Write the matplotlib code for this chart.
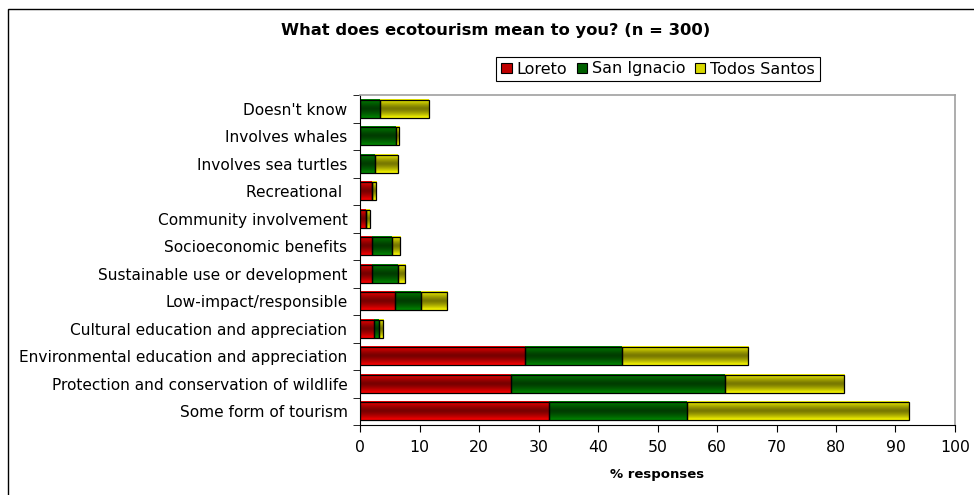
import matplotlib
matplotlib.use('Agg')
import matplotlib.pyplot as plt
import numpy as np
from matplotlib.patches import Rectangle, Patch
from matplotlib.colors import LinearSegmentedColormap

# categories listed bottom -> top
categories = ["Some form of tourism",
              "Protection and conservation of wildlife",
              "Environmental education and appreciation",
              "Cultural education and appreciation",
              "Low-impact/responsible",
              "Sustainable use or development",
              "Socioeconomic benefits",
              "Community involvement",
              "Recreational ",
              "Involves sea turtles",
              "Involves whales",
              "Doesn't know"]
loreto = [31.7, 25.4, 27.8, 2.4, 5.9, 2.0, 2.0, 1.0, 2.0, 0.0, 0.0, 0.0]
san_ignacio = [23.2, 35.9, 16.2, 0.8, 4.3, 4.4, 3.4, 0.0, 0.0, 2.6, 6.0, 3.4]
todos_santos = [37.3, 20.0, 21.2, 0.7, 4.5, 1.2, 1.4, 0.6, 0.7, 3.8, 0.6, 8.2]
series = ["Loreto", "San Ignacio", "Todos Santos"]

# (edge colour of gradient, dark centre colour, legend colour)
cols = [("#ff0000", "#780000", "#c00000"),
        ("#008800", "#003c00", "#006000"),
        ("#ffff00", "#787800", "#d8d800")]

fig = plt.figure(figsize=(9.74, 4.95), dpi=100)
ax = fig.add_axes([360/974, 1-425/495, 595/974, 330/495])

y = np.arange(len(categories))
left = np.zeros(len(categories))
grad = (np.abs(np.linspace(-1, 1, 64)) ** 1.4).reshape(-1, 1)
for vals, (c_edge, c_mid, _) in zip([loreto, san_ignacio, todos_santos], cols):
    cmap = LinearSegmentedColormap.from_list('g', [c_mid, c_edge])
    bars = ax.barh(y, vals, left=left, height=0.67, facecolor='none',
                   edgecolor='black', linewidth=0.9, zorder=3)
    for b in bars:
        bx, by = b.get_x(), b.get_y()
        w, h = b.get_width(), b.get_height()
        if w <= 0:
            continue
        ax.imshow(grad, extent=[bx, bx + w, by, by + h], aspect='auto',
                  cmap=cmap, vmin=0, vmax=1, zorder=2, interpolation='bilinear')
    left = left + np.array(vals)

ax.set_xlim(0, 100)
ax.set_ylim(-0.5, len(categories) - 0.5)
ax.set_xticks(np.arange(0, 101, 10))
ax.set_yticks(y)
ax.set_yticklabels(categories, fontsize=11.1)
ax.set_yticks(np.arange(-0.5, len(categories), 1), minor=True)
ax.tick_params(axis='y', which='major', length=0, pad=9)
ax.tick_params(axis='y', which='minor', length=5, direction='out')
ax.tick_params(axis='x', length=5, direction='out', labelsize=11.3, pad=6)
for s in ['top', 'right']:
    ax.spines[s].set_color('#a0a0a0')
    ax.spines[s].set_linewidth(1.2)
ax.set_xlabel('% responses', fontsize=9.5, fontweight='bold', labelpad=9)

fig.text(496/974, 1-31/495, 'What does ecotourism mean to you? (n = 300)',
         ha='center', va='center', fontsize=11.8, fontweight='bold')

handles = [Patch(facecolor=c[2], edgecolor='black', linewidth=0.8) for c in cols]
lg = fig.legend(handles, series, loc='center', bbox_to_anchor=(658/974, 1-69/495),
                ncol=3, fontsize=11.5, frameon=True, fancybox=False, edgecolor='black',
                handlelength=0.65, handleheight=0.65, handletextpad=0.3,
                columnspacing=0.6, borderpad=0.3, framealpha=1)
lg.get_frame().set_linewidth(0.8)

fig.patches.append(Rectangle((8/974, -0.1), 1.2, 1.1 - 9/495, transform=fig.transFigure,
                             fill=False, edgecolor='black', linewidth=1))

fig.savefig('out.png', dpi=100)
